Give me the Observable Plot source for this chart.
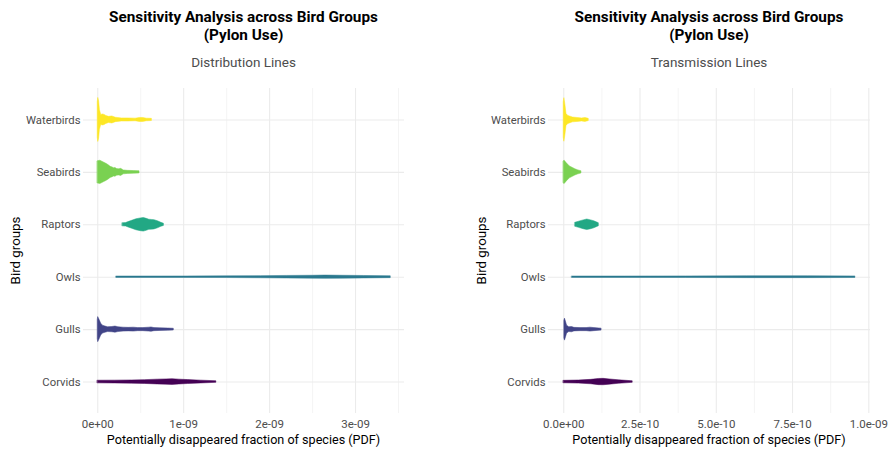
<!DOCTYPE html>
<html>
<head>
<meta charset="utf-8">
<script src="https://cdn.jsdelivr.net/npm/d3@7"></script>
<script src="https://cdn.jsdelivr.net/npm/@observablehq/plot@0.6"></script>
<style>
  html, body { margin: 0; padding: 0; background: #fff; }
  #root { position: relative; width: 892px; height: 451px; overflow: hidden; font-family: Roboto, "Liberation Sans", sans-serif; }
  .panel { position: absolute; top: 0; width: 446px; height: 451px; }
  .title { position: absolute; top: 8px; text-align: center; font-weight: bold; font-size: 15.3px; line-height: 18px; color: #000; }
  .subtitle { position: absolute; top: 54px; text-align: center; font-size: 13.5px; line-height: 16px; color: #4d4d4d; }
  .panel svg { position: absolute; top: 75px; left: 0; }
</style>
</head>
<body>
<div id="root"></div>
<script>
// ---------------- data ----------------
const groups = ["Corvids", "Gulls", "Owls", "Raptors", "Seabirds", "Waterbirds"];
const groupColors = ["#440154", "#414487", "#2A788E", "#22A884", "#7AD151", "#FDE725"];

const mainTitle = "Sensitivity Analysis across Bird Groups\n(Pylon Use)";
const panelSubtitles = ["Distribution Lines", "Transmission Lines"];
const xLabel = "Potentially disappeared fraction of species (PDF)";
const yLabel = "Bird groups";

// x ticks (values) and their labels
const distTicks = [0, 1e-9, 2e-9, 3e-9];
const distTickLabels = ["0e+00", "1e-09", "2e-09", "3e-09"];
const transTicks = [0, 2.5e-10, 5e-10, 7.5e-10, 1e-9];
const transTickLabels = ["0.0e+00", "2.5e-10", "5.0e-10", "7.5e-10", "1.0e-09"];

// violin profiles: [value (x 1e-9), relative density]
const distCorvids = [[0,0.06],[0.2,0.064],[0.4,0.073],[0.55,0.086],[0.7,0.11],[0.8,0.12],[0.87,0.13],[0.95,0.11],[1.05,0.09],[1.2,0.064],[1.38,0.036]];
const distGulls = [[0,0.45],[0.005,0.57],[0.02,0.45],[0.04,0.27],[0.06,0.18],[0.09,0.14],[0.12,0.11],[0.17,0.12],[0.206,0.14],[0.24,0.11],[0.3,0.09],[0.36,0.08],[0.42,0.09],[0.47,0.07],[0.53,0.07],[0.6,0.09],[0.625,0.1],[0.66,0.07],[0.73,0.06],[0.82,0.05],[0.885,0.04]];
const distOwls = [[0.218,0.032],[0.5,0.032],[1.0,0.033],[1.5,0.038],[1.9,0.048],[2.2,0.058],[2.5,0.066],[2.65,0.075],[2.85,0.066],[3.1,0.056],[3.41,0.042]];
const distRaptors = [[0.29,0.07],[0.33,0.08],[0.35,0.11],[0.4,0.18],[0.45,0.25],[0.5,0.29],[0.536,0.31],[0.57,0.27],[0.6,0.23],[0.63,0.22],[0.66,0.21],[0.7,0.16],[0.74,0.09],[0.77,0.05]];
const distSeabirds = [[0,0.5],[0.03,0.53],[0.07,0.45],[0.1,0.39],[0.128,0.32],[0.15,0.25],[0.167,0.23],[0.19,0.19],[0.206,0.2],[0.225,0.15],[0.245,0.14],[0.26,0.15],[0.272,0.16],[0.29,0.12],[0.303,0.09],[0.35,0.07],[0.42,0.06],[0.486,0.05]];
const distWaterbirds = [[0,0.82],[0.006,1.0],[0.015,0.86],[0.025,0.45],[0.04,0.23],[0.06,0.25],[0.08,0.23],[0.1,0.18],[0.13,0.14],[0.17,0.16],[0.21,0.1],[0.28,0.07],[0.36,0.07],[0.44,0.06],[0.49,0.09],[0.53,0.09],[0.57,0.06],[0.63,0.05]];

const transCorvids = [[0,0.055],[0.05,0.07],[0.09,0.1],[0.115,0.14],[0.131,0.145],[0.15,0.12],[0.18,0.08],[0.226,0.036]];
const transGulls = [[0.002,0.41],[0.004,0.5],[0.008,0.32],[0.011,0.18],[0.018,0.11],[0.027,0.12],[0.035,0.08],[0.055,0.07],[0.075,0.07],[0.0875,0.09],[0.1,0.07],[0.124,0.045]];
const transOwls = [[0.0275,0.032],[0.2,0.032],[0.4,0.037],[0.6,0.042],[0.8,0.042],[0.956,0.036]];
const transRaptors = [[0.038,0.09],[0.05,0.14],[0.065,0.2],[0.077,0.24],[0.09,0.2],[0.1,0.16],[0.108,0.11],[0.115,0.07]];
const transSeabirds = [[0,0.5],[0.003,0.53],[0.01,0.41],[0.02,0.27],[0.03,0.2],[0.038,0.14],[0.048,0.09],[0.058,0.05]];
const transWaterbirds = [[0,0.82],[0.002,0.99],[0.005,0.73],[0.009,0.27],[0.015,0.18],[0.02,0.16],[0.03,0.11],[0.045,0.09],[0.06,0.07],[0.071,0.09],[0.082,0.05]];

// ---------------- build ----------------
function rows(profiles) {
  const out = [];
  groups.forEach((g, k) => {
    for (const [v, d] of profiles[k]) out.push({group: g, i: k + 1, x: v * 1e-9, d});
  });
  return out;
}
const distRows = rows([distCorvids, distGulls, distOwls, distRaptors, distSeabirds, distWaterbirds]);
const transRows = rows([transCorvids, transGulls, transOwls, transRaptors, transSeabirds, transWaterbirds]);

const W = 0.42; // half-width (in category units) for density 1

function minorTicks(ticks) {
  const step = ticks[1] - ticks[0];
  const m = ticks.map(t => t + step / 2);
  return [ticks[0] - step / 2, ...m];
}

function makePanel(cfg) {
  const {rowsData, ticks, tickLabels, xDomain, marginLeft, marginRight, subtitle, left} = cfg;
  const width = 446, height = 376;
  const minors = minorTicks(ticks).filter(t => t > xDomain[0] && t < xDomain[1]);
  const chart = Plot.plot({
    width, height,
    marginLeft, marginRight, marginTop: 13, marginBottom: 38,
    style: {fontFamily: 'Roboto, "Liberation Sans", sans-serif', background: "transparent"},
    x: {domain: xDomain},
    y: {type: "linear", domain: [0.4, 6.6]},
    color: {domain: groups, range: groupColors},
    marks: [
      Plot.gridX(minors, {stroke: "#ebebeb", strokeOpacity: 1, strokeWidth: 0.55}),
      Plot.gridX(ticks, {stroke: "#ebebeb", strokeOpacity: 1, strokeWidth: 1.1}),
      Plot.gridY([1, 2, 3, 4, 5, 6], {stroke: "#ebebeb", strokeOpacity: 1, strokeWidth: 1.1}),
      Plot.areaY(rowsData, {x: "x", y1: d => d.i - d.d * W, y2: d => d.i + d.d * W, z: "group", fill: "group", stroke: "group", strokeWidth: 0.5, curve: "linear"}),
      Plot.axisX(ticks, {tickSize: 0, tickPadding: 6, tickFormat: (d, j) => tickLabels[j], fontSize: 11.5, color: "#4d4d4d", label: null}),
      Plot.axisY([1, 2, 3, 4, 5, 6], {tickSize: 0, tickPadding: 3, tickFormat: d => groups[d - 1], fontSize: 11.3, color: "#4d4d4d", label: null})
    ]
  });
  const panel = document.createElement("div");
  panel.className = "panel";
  panel.style.left = left + "px";
  const plotW = width - marginLeft - marginRight;
  const t = document.createElement("div");
  t.className = "title";
  t.style.left = marginLeft + "px"; t.style.width = plotW + "px";
  t.innerHTML = mainTitle.split("\n").join("<br>");
  const s = document.createElement("div");
  s.className = "subtitle";
  s.style.left = marginLeft + "px"; s.style.width = plotW + "px";
  s.textContent = subtitle;
  panel.appendChild(t); panel.appendChild(s); panel.appendChild(chart);
  const svg = d3.select(chart);
  svg.append("text")
    .attr("x", marginLeft + plotW / 2).attr("y", height - 7)
    .attr("text-anchor", "middle").attr("font-size", 12.6).attr("fill", "#000")
    .text(xLabel);
  svg.append("text")
    .attr("transform", `translate(${cfg.yLabelX},${13 + (height - 13 - 38) / 2}) rotate(-90)`)
    .attr("text-anchor", "middle").attr("font-size", 13.3).attr("fill", "#000")
    .text(yLabel);
  document.getElementById("root").appendChild(panel);
}

makePanel({rowsData: distRows, ticks: distTicks, tickLabels: distTickLabels, xDomain: [-0.166e-9, 3.57e-9], marginLeft: 83, marginRight: 42, subtitle: panelSubtitles[0], left: 0, yLabelX: 20});
makePanel({rowsData: transRows, ticks: transTicks, tickLabels: transTickLabels, xDomain: [-0.05e-9, 1.0056e-9], marginLeft: 102, marginRight: 22, subtitle: panelSubtitles[1], left: 446, yLabelX: 40});
</script>
</body>
</html>
